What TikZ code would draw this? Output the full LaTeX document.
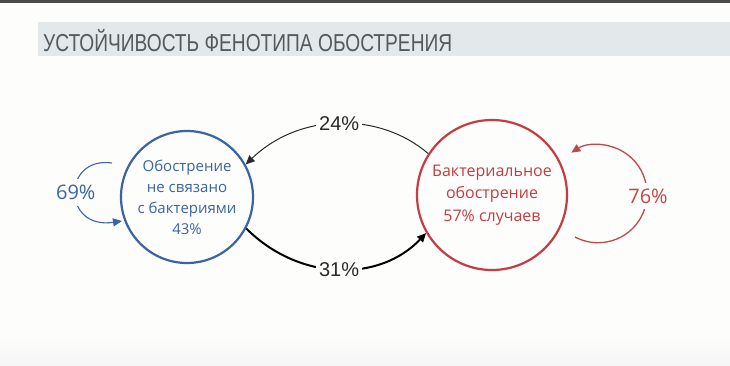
\documentclass[tikz,border=0pt]{standalone}
\usepackage{fontspec}
\setmainfont{Open Sans}
\newfontfamily\arialf{Liberation Sans}
\usetikzlibrary{arrows.meta,calc}
\definecolor{bl}{HTML}{3C64A3}
\definecolor{rd}{HTML}{C43C44}
\definecolor{rdl}{HTML}{C2464D}
\definecolor{barc}{HTML}{E3E8EB}
\definecolor{titlec}{HTML}{555A5E}
\definecolor{dk}{HTML}{2A2A2A}
\definecolor{bgc}{HTML}{FDFDFB}
\tikzset{
  state/.style={circle, line width=2.2pt, inner sep=0pt, align=center},
  pct/.style={fill=bgc, inner xsep=3pt, inner ysep=3pt, font=\arialf\fontsize{20}{20}\selectfont},
  looppct/.style={fill=bgc, inner xsep=2pt, inner ysep=6pt, font=\fontsize{20}{20}\selectfont},
  tip/.style={-{Triangle[length=9pt,width=8pt]}},
}
\begin{document}
\begin{tikzpicture}[x=1pt,y=-1pt]
\useasboundingbox (0,0) rectangle (730,365);
\fill[bgc] (0,0) rectangle (730,365);
\fill[black!70] (0,0) rectangle (730,2.5);
\shade[top color=bgc, bottom color=black!4] (0,340) rectangle (730,365);
\fill[barc] (38,22) rectangle (730,56);
\node[anchor=west, inner sep=0pt, text=titlec] (title) at (43,40.5)
  {\resizebox{409pt}{\height}{\arialf\fontsize{24.5}{25}\selectfont УСТОЙЧИВОСТЬ ФЕНОТИПА ОБОСТРЕНИЯ}};

\node[state, draw=bl, minimum size=132pt, text=bl, font=\fontsize{15}{21}\selectfont] (nb) at (187,197)
  {Обострение\\не связано\\с бактериями\\43\%};
\node[state, draw=rd, minimum size=150pt, text=rd, font=\fontsize{16}{22.5}\selectfont] (nr) at (492,195)
  {Бактериальное\\обострение\\57\% случаев};

\coordinate (bs) at (112,163);
\coordinate (be) at (122,221);
\draw[bl, line width=1.1pt, tip] (bs) .. controls (62,156) and (62,230) .. (be)
  node[pos=0.5, looppct, text=bl] (l69) {69\%};

\coordinate (rs) at (575,237);
\draw[rdl, line width=1.3pt, tip] (rs) arc[start angle=118, end angle=-123, radius=49]
  coordinate (re);
\node[looppct, text=rdl] (l76) at (648,196) {76\%};

\draw[dk, line width=1pt, tip] (nr.147) .. controls (380,112) and (300,112) .. (nb.29)
  node[pos=0.5, pct, text=dk] (l24) {24\%};
\draw[black, line width=2pt, tip] (nb.-28) .. controls (300,282) and (380,282) .. (nr.210)
  node[pos=0.5, pct, text=dk] (l31) {31\%};
\end{tikzpicture}
\end{document}
